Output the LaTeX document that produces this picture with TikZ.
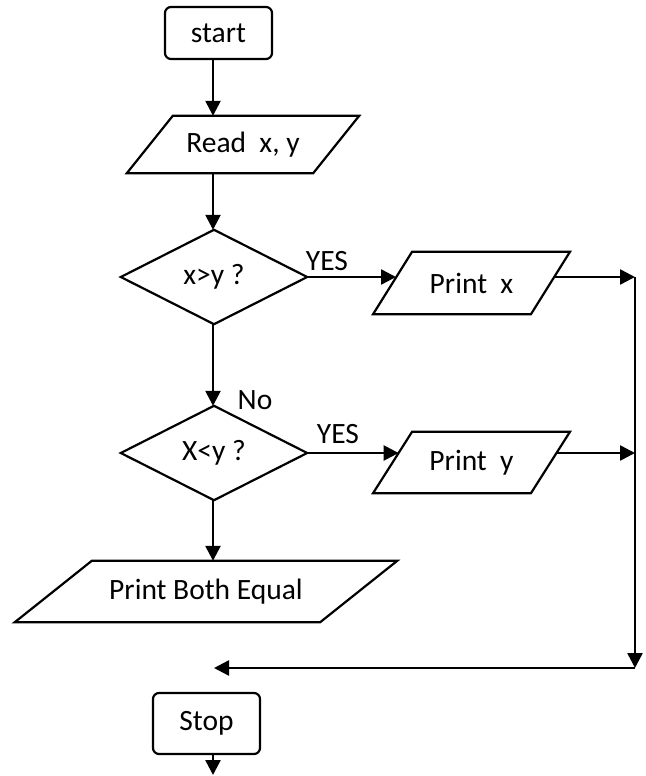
\documentclass[tikz,border=0pt]{standalone}
\usepackage{fontspec}
\setmainfont{Carlito}
\usetikzlibrary{arrows.meta,calc}
\newcommand\drawpara[2]{\draw[edgeline] ([xshift=#2]#1.north west) -- ([xshift=#2]#1.north east) -- ([xshift=-#2]#1.south east) -- ([xshift=-#2]#1.south west) -- cycle;}
\newcommand\drawdiam[1]{\draw[edgeline] (#1.north) -- (#1.east) -- (#1.south) -- (#1.west) -- cycle;}
\begin{document}
\begin{tikzpicture}[x=1pt,y=-1pt,
  font=\fontsize{29.5}{34}\selectfont,
  termbox/.style={draw, line width=2.2pt, rounded corners=6pt, minimum width=107pt, inner sep=0pt},
  holder/.style={inner sep=0pt},
  arr/.style={line width=2.5pt, -{Triangle[length=15pt,width=15pt]}},
  lbl/.style={inner sep=0pt},
  edgeline/.style={line width=2.2pt, line join=miter}]
\useasboundingbox (0,0) rectangle (645,776);
% nodes
\node[termbox, minimum height=52pt] (start) at (218.5,33) {start};
\node[holder, minimum width=186pt, minimum height=57pt] (rd) at (243,144.5) {Read~ x, y};
\drawpara{rd}{23pt}
\node[holder, minimum width=186pt, minimum height=94pt] (d1) at (214,277) {x>y ?};
\drawdiam{d1}
\node[holder, minimum width=157.5pt, minimum height=62pt] (px) at (471.5,283) {Print~ x};
\drawpara{px}{19.5pt}
\node[holder, minimum width=186pt, minimum height=94pt] (d2) at (214,453) {X<y ?};
\drawdiam{d2}
\node[holder, minimum width=157.5pt, minimum height=61pt] (py) at (471.5,462.5) {Print~ y};
\drawpara{py}{19.5pt}
\node[holder, minimum width=305pt, minimum height=61pt] (pbe) at (206,591.5) {Print Both Equal};
\drawpara{pbe}{38.5pt}
\node[termbox, minimum height=61pt] (stop) at (206.5,723.5) {Stop};
% labels
\node[lbl] (yes1) at (327,261) {YES};
\node[lbl] (yes2) at (338,434) {YES};
\node[lbl] (no) at (255,400) {No};
% coordinates
\coordinate (pxin) at (396,277);
\coordinate (pxout) at (554,277);
\coordinate (pyin) at (398.6,453);
\coordinate (pyout) at (556.2,453);
\coordinate (j1) at (635,277);
\coordinate (j2) at (635,453);
\coordinate (j3) at (635,668);
\coordinate (mg) at (214,668);
\coordinate (fin) at (213,775);
% connectors
\draw[arr] (start.south -| fin) -- (rd.north -| fin);
\draw[arr] (rd.south -| fin) -- (d1.north -| fin);
\draw[arr] (d1.south -| fin) -- (d2.north -| fin);
\draw[arr] (d2.south -| fin) -- (pbe.north -| fin);
\draw[arr] (stop.south -| fin) -- (fin);
\draw[arr] (d1.east) -- (pxin);
\draw[arr] (d2.east) -- (pyin);
\draw[arr] (pxout) -- (j1);
\draw[arr] (pyout) -- (j2);
\draw[arr] (j1) -- (j3);
\draw[arr] (j3) -- (mg);
\end{tikzpicture}
\end{document}
